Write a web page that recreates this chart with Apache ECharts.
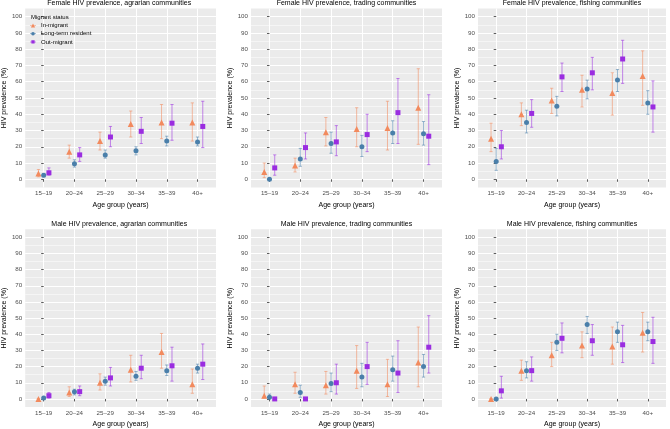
<!DOCTYPE html>
<html><head><meta charset="utf-8">
<script src="https://cdn.jsdelivr.net/npm/echarts@6/dist/echarts.min.js"></script>
<style>html,body{margin:0;padding:0;background:#fff}#c{width:670px;height:429px}</style>
</head><body><div id="c"></div>
<script>
const ageGroups = ['15–19', '20–24', '25–29', '30–34', '35–39', '40+'];
const yTicks = [0, 10, 20, 30, 40, 50, 60, 70, 80, 90, 100];
const yMinor = [5, 15, 25, 35, 45, 55, 65, 75, 85, 95];
const statusNames = ['In-migrant', 'Long-term resident', 'Out-migrant'];
const panelTitles = [
  'Female HIV prevalence, agrarian communities',
  'Female HIV prevalence, trading communities',
  'Female HIV prevalence, fishing communities',
  'Male HIV prevalence, agrarian communities',
  'Male HIV prevalence, trading communities',
  'Male HIV prevalence, fishing communities'
];
// each entry: [estimate, lower CI, upper CI] per age group
const femAgrIn  = [[3.5,1.5,6],[17,13,21],[23.5,18,29],[34,26,42],[35,25,46],[35,23.5,47]];
const femAgrLtr = [[2.5,1.5,3.5],[9.5,7.5,12],[15,13,18],[17.5,15,20],[23.5,20.5,26.5],[23,20.5,26]];
const femAgrOut = [[4,2.5,7],[15,11,19.5],[26,20,32.5],[29.5,22,38],[34.5,24,46],[32.5,19.5,48]];
const femTrdIn  = [[4.5,1,10],[8.5,4.5,13],[29,20.5,38],[31,20,44],[31.5,18,48],[44,21.5,68]];
const femTrdLtr = [[0,0,0.5],[12.5,8,19],[22,16,29],[20,14,27],[28.5,22,36],[28,21,35.5]];
const femTrdOut = [[7,2.5,15],[19.5,12.5,28.5],[23,14.5,33],[27.5,17,40],[41,22,62],[26.5,9,52]];
const femFshIn  = [[25,17,34.5],[40,33,47],[48.5,40.5,56],[55,44.5,64],[53,39.5,65.5],[63.5,45.5,79]];
const femFshLtr = [[11,5.5,19],[35,28.5,42.5],[45,39,51],[55.5,49.5,61],[61,54,67.5],[47,40,54.5]];
const femFshOut = [[20,12.5,30],[40.5,32,49],[63,54,71.5],[65.5,55,75],[74,59,85.5],[44.5,29,60.5]];
const malAgrIn  = [[0,0,0],[4,1.5,7.5],[10,5.5,15.5],[18,10.5,27],[29,19,40.5],[9,3.5,18.5]];
const malAgrLtr = [[0.5,0,1.5],[4.5,2.5,6],[11,8.5,13.5],[14,11.5,17],[17.5,14.5,21],[19,16,21.5]];
const malAgrOut = [[2,0.5,4],[4.5,2,8],[13,8,19.5],[19,12.5,27],[20.5,11,32],[21.5,12,34]];
const malTrdIn  = [[2,0.5,8],[9,3.5,16.5],[8.5,3,17],[17.5,6.5,33],[9,1.5,24.5],[22.5,7.5,44.5]];
const malTrdLtr = [[1,0,3],[4,1,8.5],[9.5,4.5,16],[13.5,7.5,22],[18,11,26.5],[20,13.5,27.5]];
const malTrdOut = [[0,0,0],[0,0,0],[10,3,21.5],[20,9,35],[16,4,36],[32,16,51.5]];
const malFshIn  = [[0,0,0],[17.5,11.5,24],[27,20,35],[33,25.5,41.5],[32.5,21.5,44.5],[41,29,53.5]];
const malFshLtr = [[0,0,0],[17.5,13,23],[35,30,40],[46,40.5,51],[41.5,35,47.5],[41.5,36,47.5]];
const malFshOut = [[5,0.5,14],[17.5,11,26],[37.5,28.5,47],[36,27,46],[33.5,22.5,45.5],[35.5,22,50.5]];

const panelData = [
  [femAgrIn, femAgrLtr, femAgrOut],
  [femTrdIn, femTrdLtr, femTrdOut],
  [femFshIn, femFshLtr, femFshOut],
  [malAgrIn, malAgrLtr, malAgrOut],
  [malTrdIn, malTrdLtr, malTrdOut],
  [malFshIn, malFshLtr, malFshOut]
];

const FONT = 'Liberation Sans, Arial, sans-serif';
const colors = ['#F28A5E', '#4A7FAA', '#9A2DE0'];
const barColors = ['rgba(242,138,94,0.7)', 'rgba(74,127,170,0.7)', 'rgba(154,45,224,0.7)'];
const symbols = ['triangle', 'circle', 'rect'];
const symSizes = [6, 5, 5];
const dodge = [-0.17, 0, 0.17];

const lefts = [22.5, 251, 478];
const rights = [216, 442, 666];
const tops = [8.6, 229.2];
const heights = [178.8, 178.2];

const grids = [], xAxes = [], yAxes = [], series = [], titles = [];
for (let p = 0; p < 6; p++) {
  const c = p % 3, r = Math.floor(p / 3);
  grids.push({left: lefts[c], top: tops[r], width: rights[c] - lefts[c], height: heights[r],
    show: true, backgroundColor: '#EBEBEB', borderWidth: 0, containLabel: false});
  xAxes.push({type: 'value', gridIndex: p, min: -0.6, max: 5.6,
    axisLine: {show: false},
    axisTick: {show: true, customValues: [0,1,2,3,4,5], length: 2.5, lineStyle: {color: '#333', width: 0.8}},
    axisLabel: {customValues: [0,1,2,3,4,5], formatter: v => ageGroups[Math.round(v)],
      fontSize: 6.2, color: '#4D4D4D', margin: 3, fontFamily: FONT},
    splitLine: {show: true, lineStyle: {color: '#FFFFFF', width: 1}},
    name: 'Age group (years)', nameLocation: 'middle', nameGap: 14,
    nameTextStyle: {fontSize: 7, color: '#000', fontFamily: FONT}});
  yAxes.push({type: 'value', gridIndex: p, min: -5, max: 105,
    axisLine: {show: false},
    axisTick: {show: true, customValues: yTicks, length: 2.5, lineStyle: {color: '#333', width: 0.8}},
    axisLabel: {customValues: yTicks, fontSize: 6.2, color: '#4D4D4D', margin: 3, fontFamily: FONT},
    splitLine: {show: true, lineStyle: {color: '#FFFFFF', width: 1}},
    name: 'HIV prevalence (%)', nameLocation: 'middle', nameGap: 14, nameRotate: 90,
    nameTextStyle: {fontSize: 7, color: '#000', fontFamily: FONT}});
  yAxes.push({type: 'value', gridIndex: p, min: -5, max: 105, position: 'left',
    axisLine: {show: false},
    axisTick: {show: false, customValues: yMinor},
    axisLabel: {show: false},
    splitLine: {show: true, lineStyle: {color: '#FFFFFF', width: 0.5}}});
  titles.push({text: panelTitles[p], left: (lefts[c] + rights[c]) / 2, textAlign: 'center',
    top: r === 0 ? 0 : 221, padding: 0,
    textStyle: {fontSize: 7, fontWeight: 'normal', color: '#000', fontFamily: FONT}});
  for (let s = 0; s < 3; s++) {
    const arr = panelData[p][s];
    series.push({type: 'custom', name: statusNames[s], xAxisIndex: p, yAxisIndex: 2 * p,
      data: arr.map((v, i) => [i + dodge[s], v[1], v[2]]),
      encode: {x: 0, y: [1, 2]}, z: 3,
      renderItem: (params, api) => {
        const x = api.value(0);
        const a = api.coord([x, api.value(1)]), b = api.coord([x, api.value(2)]);
        const w = 1.6;
        const st = {stroke: barColors[s], lineWidth: 0.8, fill: null};
        return {type: 'group', children: [
          {type: 'line', shape: {x1: a[0], y1: a[1], x2: b[0], y2: b[1]}, style: st},
          {type: 'line', shape: {x1: a[0] - w, y1: a[1], x2: a[0] + w, y2: a[1]}, style: st},
          {type: 'line', shape: {x1: b[0] - w, y1: b[1], x2: b[0] + w, y2: b[1]}, style: st}
        ]};
      }});
    series.push({type: 'scatter', name: statusNames[s], xAxisIndex: p, yAxisIndex: 2 * p,
      data: arr.map((v, i) => [i + dodge[s], v[0]]),
      symbol: symbols[s], symbolSize: symSizes[s], z: 4,
      itemStyle: {color: colors[s], opacity: 1}});
  }
}
titles.push({text: 'Migrant status', left: 31, top: 14, padding: 0,
  textStyle: {fontSize: 6, fontWeight: 'normal', color: '#000', fontFamily: FONT}});

const icons = [
  'path://M0,4.6H10V5.4H0Z M5,1.5L8.5,8L1.5,8Z',
  'path://M0,4.6H10V5.4H0Z M5,2A3,3 0 1 1 4.99,2Z',
  'path://M0,4.6H10V5.4H0Z M2.3,2.3H7.7V7.7H2.3Z'
];

const chart = echarts.init(document.getElementById('c'), null, {renderer: 'canvas'});
chart.setOption({
  animation: false,
  backgroundColor: '#fff',
  title: titles,
  grid: grids,
  xAxis: xAxes,
  yAxis: yAxes,
  legend: {orient: 'vertical', left: 30, top: 22, itemWidth: 6, itemHeight: 5.5, itemGap: 1.2, padding: 0,
    data: statusNames.map((n, s) => ({name: n, icon: icons[s], itemStyle: {color: colors[s]}})),
    textStyle: {fontSize: 6, color: '#000', fontFamily: FONT, lineHeight: 7}},
  series: series
});
</script></body></html>
